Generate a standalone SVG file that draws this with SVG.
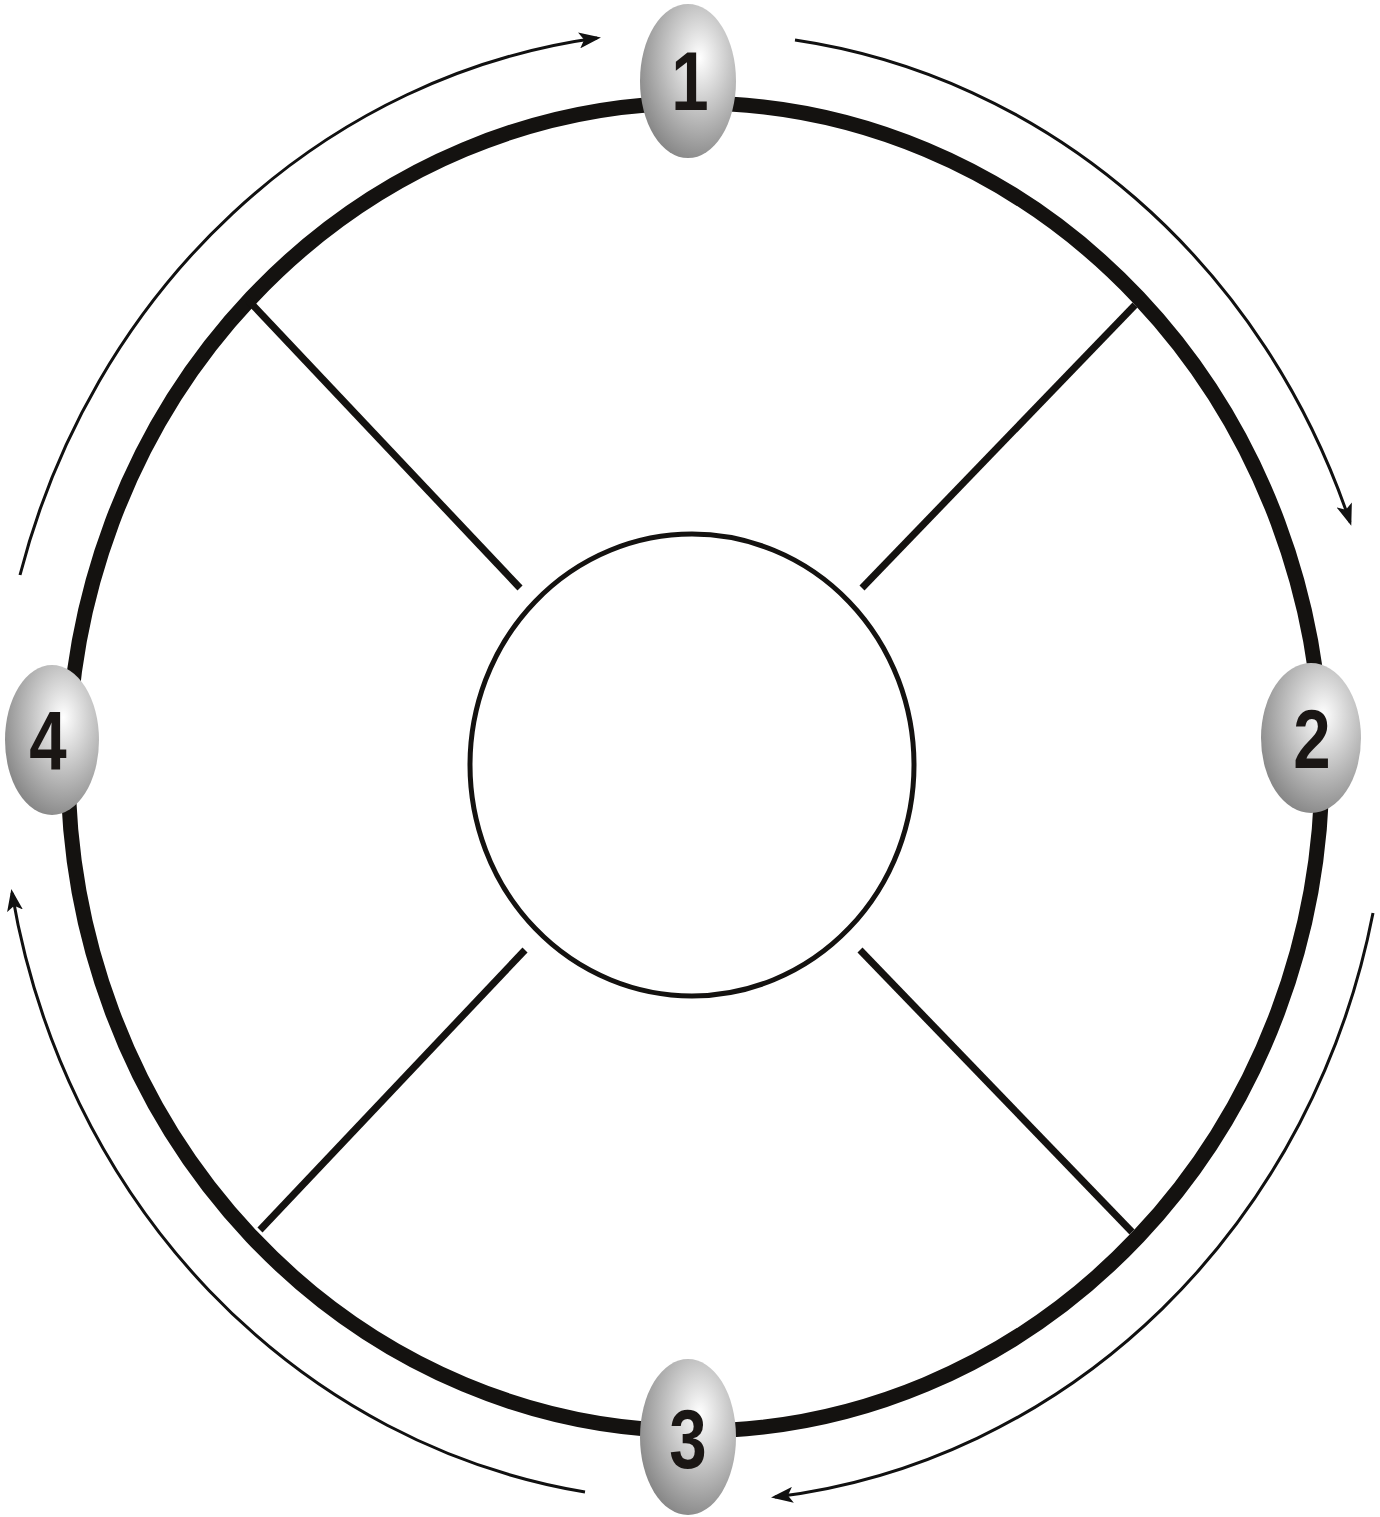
<svg xmlns="http://www.w3.org/2000/svg" width="1380" height="1517" viewBox="0 0 1380 1517">
<defs>
<radialGradient id="sphere" cx="0.62" cy="0.35" r="0.7">
<stop offset="0" stop-color="#ffffff"/>
<stop offset="0.45" stop-color="#c8c8c8"/>
<stop offset="1" stop-color="#858585"/>
</radialGradient>
<marker id="ah" viewBox="0 0 22 16" refX="18" refY="8" markerWidth="22" markerHeight="16" markerUnits="userSpaceOnUse" orient="auto">
<path d="M0,0 L22,8 L0,16 L5,8 Z" fill="#111"/>
</marker>
<style>
.ring{fill:none;stroke:#141210;stroke-width:15}
.inner{fill:#fff;stroke:#141210;stroke-width:5}
.spoke{stroke:#141210;stroke-width:7;stroke-linecap:butt}
.flow{fill:none;stroke:#111;stroke-width:3;marker-end:url(#ah)}
.node{fill:url(#sphere)}
.lbl{font-family:"Liberation Sans",Arial,sans-serif;font-weight:bold;font-size:84px;fill:#1a1614;text-anchor:middle}
</style>
</defs>
<rect width="1380" height="1517" fill="#fff"/>
<g id="structure">
<ellipse class="ring" cx="695" cy="767" rx="627" ry="664"/>
<line class="spoke" x1="248" y1="300" x2="520" y2="588"/>
<line class="spoke" x1="1135" y1="305" x2="862" y2="588"/>
<line class="spoke" x1="525" y1="950" x2="260" y2="1230"/>
<line class="spoke" x1="860" y1="950" x2="1132" y2="1232"/>
<ellipse id="hub" class="inner" cx="692" cy="765" rx="222" ry="231"/>
</g>
<g id="connectors">
<path class="flow" d="M20,575 A690,740 0 0 1 597,38"/>
<path class="flow" d="M795,40 A690,740 0 0 1 1350,522"/>
<path class="flow" d="M1373,913 A690,740 0 0 1 775,1497"/>
<path class="flow" d="M585,1492 A690,740 0 0 1 12,893"/>
</g>
<g id="node1"><ellipse class="node" cx="688" cy="81" rx="48" ry="77"/><text class="lbl" transform="translate(690,110) scale(0.8,1)">1</text></g>
<g id="node2"><ellipse class="node" cx="1311" cy="738" rx="50" ry="75"/><text class="lbl" transform="translate(1312,768) scale(0.8,1)">2</text></g>
<g id="node3"><ellipse class="node" cx="688" cy="1437" rx="48" ry="78"/><text class="lbl" transform="translate(688,1468) scale(0.8,1)">3</text></g>
<g id="node4"><ellipse class="node" cx="52" cy="740" rx="47" ry="75"/><text class="lbl" transform="translate(48,770) scale(0.8,1)">4</text></g>
</svg>
